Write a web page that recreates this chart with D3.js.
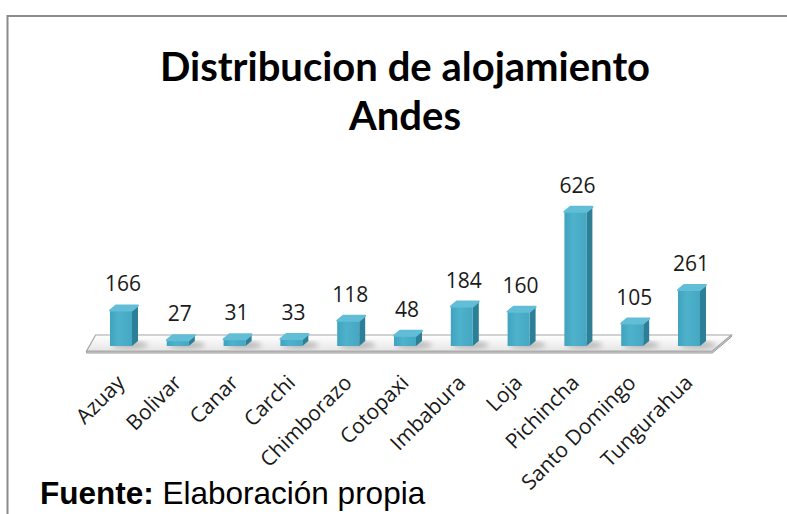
<!DOCTYPE html>
<html>
<head>
<meta charset="utf-8">
<script src="https://cdn.jsdelivr.net/npm/d3@7"></script>
<style>
  body { margin: 0; background: #fff; }
  svg { display: block; }
</style>
</head>
<body>
<div id="chart"></div>
<script>
// Data
var categories = ['Azuay', 'Bolivar', 'Canar', 'Carchi', 'Chimborazo', 'Cotopaxi',
  'Imbabura', 'Loja', 'Pichincha', 'Santo Domingo', 'Tungurahua'];
var values = [166, 27, 31, 33, 118, 48, 184, 160, 626, 105, 261];
var titleLines = ['Distribucion de alojamiento', 'Andes'];

var chart_width = 787;
var chart_height = 514;

var svg = d3.select('#chart')
  .append('svg')
  .attr('width', chart_width)
  .attr('height', chart_height);

var defs = svg.append('defs');

var floorGrad = defs.append('linearGradient')
  .attr('id', 'floorGrad')
  .attr('x1', 0).attr('y1', 0).attr('x2', 0).attr('y2', 1);
floorGrad.append('stop').attr('offset', '0%').attr('stop-color', '#ffffff');
floorGrad.append('stop').attr('offset', '100%').attr('stop-color', '#e6e6e6');

var frontGrad = defs.append('linearGradient')
  .attr('id', 'frontGrad')
  .attr('x1', 0).attr('y1', 0).attr('x2', 1).attr('y2', 0);
frontGrad.append('stop').attr('offset', '0%').attr('stop-color', '#3fa3bf');
frontGrad.append('stop').attr('offset', '40%').attr('stop-color', '#4fb2cc');
frontGrad.append('stop').attr('offset', '100%').attr('stop-color', '#45a7c2');

defs.append('filter')
  .attr('id', 'blur')
  .append('feGaussianBlur')
  .attr('stdDeviation', 2.5);

// Frame
svg.append('path')
  .attr('d', 'M7.5,514 V16 H787')
  .attr('fill', 'none')
  .attr('stroke', '#8c8c8c')
  .attr('stroke-width', 2);

// Title
svg.selectAll('text.title')
  .data(titleLines)
  .enter()
  .append('text')
  .attr('class', 'title')
  .text(function (d) { return d; })
  .attr('x', 405)
  .attr('y', function (d, i) { return 81 + i * 49; })
  .attr('text-anchor', 'middle')
  .attr('font-family', 'Lato, "Open Sans", sans-serif')
  .attr('font-weight', 'bold')
  .attr('font-size', 40)
  .attr('fill', '#000');

// Scales
var xScale = d3.scaleBand()
  .domain(categories)
  .range([95.6, 720.4])
  .paddingInner(0)
  .paddingOuter(0);

var yScale = d3.scaleLinear()
  .domain([0, 700])
  .range([346, 196]);

var barW = 22;
var depthX = 6;
var depthY = 5;
var base = yScale(0);

// Floor
var x0 = xScale.range()[0];
var x1 = xScale.range()[1];
var backY = base - 11;
var frontY = base + 5;
var floorPts = [
  [x0, backY], [x1 + 11, backY], [x1 - 8, frontY], [x0 - 9, frontY]
];
svg.append('path')
  .attr('d', 'M' + [x0 - 9, frontY + 2] + 'L' + [x1 - 8, frontY + 2] + 'L' + [x1 + 11, backY + 2] +
    'L' + [x1 + 11, backY] + 'L' + [x1 - 8, frontY] + 'L' + [x0 - 9, frontY] + 'Z')
  .attr('fill', '#d9d9d9')
  .attr('stroke', '#9a9a9a')
  .attr('stroke-width', 1);
svg.append('polygon')
  .attr('points', floorPts.map(function (p) { return p.join(','); }).join(' '))
  .attr('fill', 'url(#floorGrad)')
  .attr('stroke', '#a6a6a6')
  .attr('stroke-width', 1.2);

// Shadows on floor
svg.selectAll('ellipse.shadow')
  .data(values)
  .enter()
  .append('ellipse')
  .attr('class', 'shadow')
  .attr('cx', function (d, i) { return xScale(categories[i]) + xScale.bandwidth() / 2 + 6; })
  .attr('cy', base - 1)
  .attr('rx', 18)
  .attr('ry', 4)
  .attr('fill', '#9a9a9a')
  .attr('opacity', 0.6)
  .attr('filter', 'url(#blur)');

// Bars
var bars = svg.selectAll('g.bar')
  .data(values)
  .enter()
  .append('g')
  .attr('class', 'bar');

function barLeft(i) {
  return xScale(categories[i]) + xScale.bandwidth() / 2 - 14;
}

bars.append('path')
  .attr('d', function (d, i) {
    var x = barLeft(i) + barW;
    var t = yScale(d);
    return 'M' + [x, t] + 'L' + [x + depthX, t - depthY] + 'L' + [x + depthX, base - depthY] +
      'L' + [x, base] + 'Z';
  })
  .attr('fill', '#2b7f96');

bars.append('rect')
  .attr('x', function (d, i) { return barLeft(i); })
  .attr('y', function (d) { return yScale(d); })
  .attr('width', barW)
  .attr('height', function (d) { return base - yScale(d); })
  .attr('fill', 'url(#frontGrad)');

bars.append('path')
  .attr('d', function (d, i) {
    var x = barLeft(i);
    var t = yScale(d);
    return 'M' + [x, t] + 'L' + [x + barW, t] + 'L' + [x + barW + depthX, t - depthY] +
      'L' + [x + depthX, t - depthY] + 'Z';
  })
  .attr('fill', '#62bdd6')
  .attr('stroke', '#62bdd6')
  .attr('stroke-width', 2)
  .attr('stroke-linejoin', 'round');

// Value labels
svg.selectAll('text.value')
  .data(values)
  .enter()
  .append('text')
  .attr('class', 'value')
  .text(function (d) { return d; })
  .attr('x', function (d, i) { return xScale(categories[i]) + xScale.bandwidth() / 2 - 1; })
  .attr('y', function (d) { return yScale(d) - 19; })
  .attr('text-anchor', 'middle')
  .attr('font-family', '"Open Sans", sans-serif')
  .attr('font-size', 21)
  .attr('fill', '#1a1a1a');

// Category labels
svg.selectAll('text.cat')
  .data(categories)
  .enter()
  .append('text')
  .attr('class', 'cat')
  .text(function (d) { return d; })
  .attr('text-anchor', 'end')
  .attr('transform', function (d) {
    var cx = xScale(d) + xScale.bandwidth() / 2 + 2;
    return 'translate(' + cx + ',384) rotate(-45)';
  })
  .attr('font-family', '"Open Sans", sans-serif')
  .attr('font-size', 21)
  .attr('fill', '#1a1a1a');

// Source note
var note = svg.append('text')
  .attr('x', 40)
  .attr('y', 504)
  .attr('font-family', '"Liberation Sans", Arial, sans-serif')
  .attr('font-size', 31.5)
  .attr('fill', '#000');
note.append('tspan').attr('font-weight', 'bold').text('Fuente:');
note.append('tspan').text(' Elaboración propia');
</script>
</body>
</html>
